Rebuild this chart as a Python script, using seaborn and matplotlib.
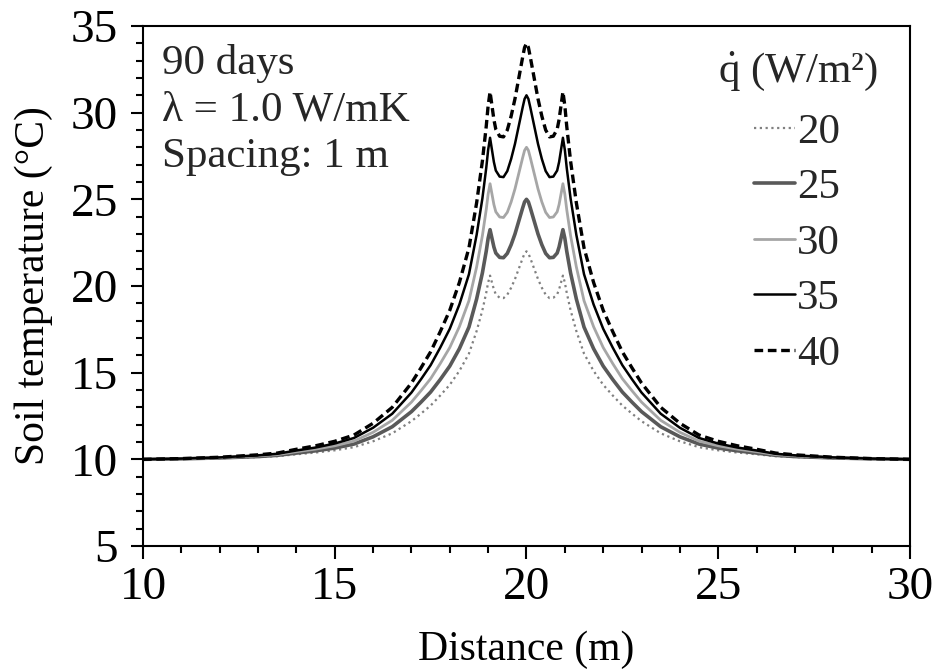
import matplotlib
matplotlib.use("Agg")
import matplotlib.pyplot as plt
from matplotlib.ticker import MultipleLocator
import seaborn as sns
import pandas as pd

# distance along the profile (m)
distance = [
    10, 11, 12, 13, 13.5, 14, 14.5, 15, 15.5, 16, 16.5, 17, 17.25, 17.5, 17.75,
    18, 18.25, 18.5, 18.7, 18.85, 18.95, 19.0, 19.05, 19.1, 19.15, 19.2, 19.3,
    19.4, 19.5, 19.6, 19.7, 19.8, 19.9, 19.95, 20.0,
    20.05, 20.1, 20.2, 20.3, 20.4, 20.5, 20.6, 20.7, 20.8, 20.85, 20.9, 20.95,
    21.0, 21.05, 21.15, 21.3, 21.5, 21.75, 22, 22.25, 22.5, 22.75, 23, 23.5,
    24, 24.5, 25, 25.5, 26, 26.5, 27, 28, 29, 30,
]

# soil temperature (°C) for each heat flux
temp_20 = [
    10, 10.02, 10.06, 10.13, 10.18, 10.29, 10.39, 10.52, 10.7, 11.04, 11.5, 12.2,
    12.64, 13.1, 13.68, 14.3, 15.1, 16.1, 17.4, 18.6, 19.6, 20.2, 20.6, 20.2,
    19.8, 19.52, 19.32, 19.3, 19.5, 19.9, 20.4, 21.0, 21.6, 21.88, 22.0,
    21.88, 21.6, 21.0, 20.4, 19.9, 19.5, 19.3, 19.32, 19.52, 19.8, 20.2, 20.6,
    20.2, 19.6, 18.6, 17.4, 16.1, 15.1, 14.3, 13.68, 13.1, 12.64, 12.2, 11.5,
    11.04, 10.7, 10.52, 10.39, 10.29, 10.18, 10.13, 10.06, 10.02, 10,
]
temp_25 = [
    10, 10.03, 10.08, 10.16, 10.23, 10.36, 10.49, 10.65, 10.88, 11.3, 11.88, 12.75,
    13.3, 13.88, 14.6, 15.38, 16.38, 17.63, 19.25, 20.75, 22.0, 22.75, 23.25, 22.75,
    22.25, 21.9, 21.65, 21.63, 21.88, 22.38, 23.0, 23.75, 24.5, 24.85, 25.0,
    24.85, 24.5, 23.75, 23.0, 22.38, 21.88, 21.63, 21.65, 21.9, 22.25, 22.75, 23.25,
    22.75, 22.0, 20.75, 19.25, 17.63, 16.38, 15.38, 14.6, 13.88, 13.3, 12.75, 11.88,
    11.3, 10.88, 10.65, 10.49, 10.36, 10.23, 10.16, 10.08, 10.03, 10,
]
temp_30 = [
    10, 10.03, 10.09, 10.2, 10.27, 10.44, 10.59, 10.78, 11.05, 11.56, 12.25, 13.3,
    13.96, 14.65, 15.52, 16.45, 17.65, 19.15, 21.1, 22.9, 24.4, 25.3, 25.9, 25.3,
    24.7, 24.28, 23.98, 23.95, 24.25, 24.85, 25.6, 26.5, 27.4, 27.82, 28.0,
    27.82, 27.4, 26.5, 25.6, 24.85, 24.25, 23.95, 23.98, 24.28, 24.7, 25.3, 25.9,
    25.3, 24.4, 22.9, 21.1, 19.15, 17.65, 16.45, 15.52, 14.65, 13.96, 13.3, 12.25,
    11.56, 11.05, 10.78, 10.59, 10.44, 10.27, 10.2, 10.09, 10.03, 10,
]
temp_35 = [
    10, 10.04, 10.11, 10.23, 10.32, 10.51, 10.68, 10.91, 11.23, 11.82, 12.63, 13.85,
    14.62, 15.43, 16.44, 17.53, 18.93, 20.68, 22.95, 25.05, 26.8, 27.85, 28.55, 27.85,
    27.15, 26.66, 26.31, 26.28, 26.63, 27.33, 28.2, 29.25, 30.3, 30.79, 31.0,
    30.79, 30.3, 29.25, 28.2, 27.33, 26.63, 26.28, 26.31, 26.66, 27.15, 27.85, 28.55,
    27.85, 26.8, 25.05, 22.95, 20.68, 18.93, 17.53, 16.44, 15.43, 14.62, 13.85, 12.63,
    11.82, 11.23, 10.91, 10.68, 10.51, 10.32, 10.23, 10.11, 10.04, 10,
]
temp_40 = [
    10, 10.04, 10.12, 10.26, 10.36, 10.58, 10.78, 11.04, 11.4, 12.08, 13.0, 14.4,
    15.28, 16.2, 17.36, 18.6, 20.2, 22.2, 24.8, 27.2, 29.2, 30.4, 31.2, 30.4,
    29.6, 29.04, 28.64, 28.6, 29.0, 29.8, 30.8, 32.0, 33.2, 33.76, 34.0,
    33.76, 33.2, 32.0, 30.8, 29.8, 29.0, 28.6, 28.64, 29.04, 29.6, 30.4, 31.2,
    30.4, 29.2, 27.2, 24.8, 22.2, 20.2, 18.6, 17.36, 16.2, 15.28, 14.4, 13.0,
    12.08, 11.4, 11.04, 10.78, 10.58, 10.36, 10.26, 10.12, 10.04, 10,
]

flux_labels = ["20", "25", "30", "35", "40"]

sns.set_theme(style="ticks")
plt.rcParams["font.family"] = ["Liberation Serif", "DejaVu Serif"]
plt.rcParams["mathtext.fontset"] = "custom"
plt.rcParams["mathtext.rm"] = "Liberation Serif"
plt.rcParams["mathtext.it"] = "Liberation Serif:italic"

TICK_FS = 34
LABEL_FS = 30
TEXT_FS = 31

fig = plt.figure(figsize=(9.32, 6.71), dpi=100)
ax = fig.add_axes([0.1534, 0.1863, 0.8230, 0.7750])

series = [temp_20, temp_25, temp_30, temp_35, temp_40]
styles = [
    dict(color="#808080", lw=1.6, ls=(0, (1, 1.6))),
    dict(color="#595959", lw=2.6, ls="-"),
    dict(color="#a6a6a6", lw=2.0, ls="-"),
    dict(color="black", lw=1.8, ls="-"),
    dict(color="black", lw=2.4, ls=(0, (2.6, 1.4))),
]
for temps, lab, st in zip(series, flux_labels, styles):
    df = pd.DataFrame({"Distance": distance, "Temperature": temps})
    sns.lineplot(data=df, x="Distance", y="Temperature", ax=ax, label=lab,
                 color=st["color"], linewidth=st["lw"], linestyle=st["ls"])

ax.set_xlim(10, 30)
ax.set_ylim(5, 35)
ax.xaxis.set_major_locator(MultipleLocator(5))
ax.xaxis.set_minor_locator(MultipleLocator(1))
ax.yaxis.set_major_locator(MultipleLocator(5))
ax.yaxis.set_minor_locator(MultipleLocator(1))
ax.tick_params(which="major", direction="out", length=9, width=1.5,
               labelsize=TICK_FS, colors="black")
ax.tick_params(axis="x", which="major", pad=6)
ax.tick_params(axis="y", which="major", pad=9)
ax.tick_params(which="minor", direction="out", length=5, width=1.5, colors="black")
for side in ax.spines.values():
    side.set_linewidth(1.5)
    side.set_color("black")

ax.set_xlabel("Distance (m)", fontsize=LABEL_FS, color="black", labelpad=15)
ax.set_ylabel("Soil temperature (°C)", fontsize=LABEL_FS, color="black", labelpad=13)

ax.text(0.025, 0.965, "90 days\nλ = 1.0 W/mK\nSpacing: 1 m", transform=ax.transAxes,
        fontsize=TEXT_FS, va="top", ha="left", linespacing=1.27)

# legend title drawn separately so its gap to the entries matches
ax.text(0.854, 0.892, r"$\dot{\mathrm{q}}$ (W/m²)", transform=ax.transAxes,
        fontsize=TEXT_FS, ha="center", va="baseline")
leg = ax.legend(frameon=False, loc="upper right",
                bbox_to_anchor=(0.92, 0.85), fontsize=TEXT_FS,
                handlelength=0.95, handletextpad=0.05, labelspacing=0.38,
                borderpad=0.2, borderaxespad=0)

fig.savefig("out.png", dpi=100)
